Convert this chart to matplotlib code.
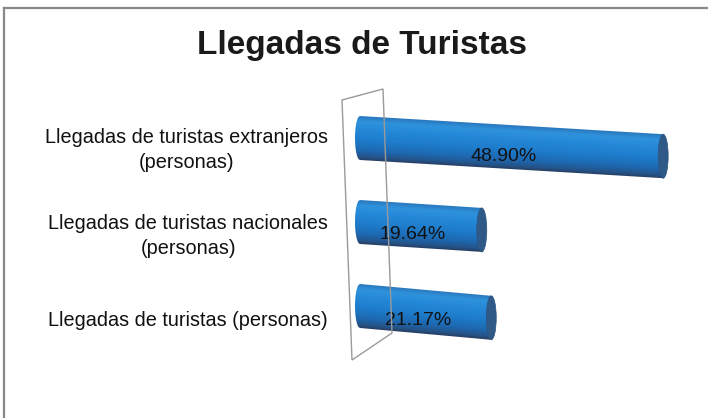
import numpy as np
import matplotlib
matplotlib.use("Agg")
import matplotlib.pyplot as plt
from matplotlib.patches import Polygon, Ellipse
from matplotlib.colors import LinearSegmentedColormap

# ---- data ----
title = "Llegadas de Turistas"
categories = [
    "Llegadas de turistas extranjeros\n(personas)",
    "Llegadas de turistas nacionales\n(personas)",
    "Llegadas de turistas (personas)",
]
values = [48.90, 19.64, 21.17]
value_labels = ["48.90%", "19.64%", "21.17%"]

plt.rcParams['font.family'] = ['Liberation Sans', 'DejaVu Sans']

W, H = 708, 418
fig = plt.figure(figsize=(W / 100, H / 100), dpi=100)
fig.patch.set_facecolor("white")

# frame border (top + left visible, continues past right/bottom edge)
fig.add_artist(plt.Line2D([4 / W, 4 / W], [0, 1 - 8 / H], transform=fig.transFigure,
                          color="#888888", lw=1.6))
fig.add_artist(plt.Line2D([4 / W, 1], [1 - 8 / H, 1 - 8 / H], transform=fig.transFigure,
                          color="#888888", lw=1.6))

fig.text(362 / W, 1 - 54 / H, title, ha="center", va="baseline", fontsize=24,
         fontweight="bold", color="#1a1a1a")

# 3D wall (decoration)
wall = [(342, 100), (383, 89), (392, 333), (352, 360)]
fig.add_artist(Polygon([(x / W, 1 - y / H) for x, y in wall], closed=True,
                       transform=fig.transFigure, fill=False, ec="#9a9a9a", lw=1.0))

# axes geometry
px_per_unit = 6.2
zero_px = 360
ax_left_px, ax_right_px = 340, 700
top_px, bot_px = 70, 400
cat_px0, cat_step = 138, 84
ax = fig.add_axes([ax_left_px / W, 1 - bot_px / H,
                   (ax_right_px - ax_left_px) / W, (bot_px - top_px) / H])
x0, x1 = (ax_left_px - zero_px) / px_per_unit, (ax_right_px - zero_px) / px_per_unit
y0, y1 = (bot_px - cat_px0) / cat_step, (top_px - cat_px0) / cat_step
ax.set_xlim(x0, x1)
ax.set_ylim(y0, y1)
ax.axis("off")

r = 22 / cat_step                 # cylinder radius in y units
a = 5 / px_per_unit               # ellipse half-width in x units
tilts = [0.06, 0.065, 0.09]       # perspective tilt (px per px) per bar

cmap = LinearSegmentedColormap.from_list(
    "cyl", [(0.0, "#2a78bd"), (0.12, "#2f92dc"), (0.3, "#2489d8"), (0.55, "#1e7ccb"),
            (0.78, "#1d68b0"), (0.92, "#24548a"), (1.0, "#283f63")])

gx = np.linspace(x0, x1, 800)
gy = np.linspace(y1, y0, 700)
GX, GY = np.meshgrid(gx, gy)

for i, v in enumerate(values):
    yc = i
    slope = tilts[i] * px_per_unit / cat_step
    T = (GY - (yc + slope * GX) + r) / (2 * r)
    img = cmap(np.clip(T, 0, 1))
    ts = np.linspace(-1, 1, 61)
    left = [(-a * np.sqrt(max(0.0, 1 - t ** 2)), yc + t * r) for t in ts]
    right = [(v, yc + t * r + slope * v) for t in ts[::-1]]
    body = Polygon(left + right, closed=True, fc="none", ec="none")
    ax.add_patch(body)
    im = ax.imshow(img, extent=(x0, x1, y0, y1), origin="upper", aspect="auto",
                   interpolation="bilinear", zorder=2)
    im.set_clip_path(body)
    ax.add_patch(Ellipse((v, yc + slope * v), 2 * a, 2 * r, fc="#2f5a88",
                         ec="#2b5482", lw=0.5, zorder=3))
    ax.text(v / 2 - 8 / px_per_unit, yc + slope * v / 2 + 9 / cat_step, value_labels[i],
            ha="center", va="center", fontsize=14, color="#111111", zorder=4)

ax.set_xlim(x0, x1)
ax.set_ylim(y0, y1)

# category labels (right aligned, centered lines)
label_offsets = [12, 14, 15]
for i, lab in enumerate(categories):
    ax.text((328 - zero_px) / px_per_unit, i + label_offsets[i] / cat_step, lab,
            ha="right", va="center", multialignment="center", fontsize=14.3,
            color="#111111", linespacing=1.45)

fig.savefig("out.png", dpi=100)
